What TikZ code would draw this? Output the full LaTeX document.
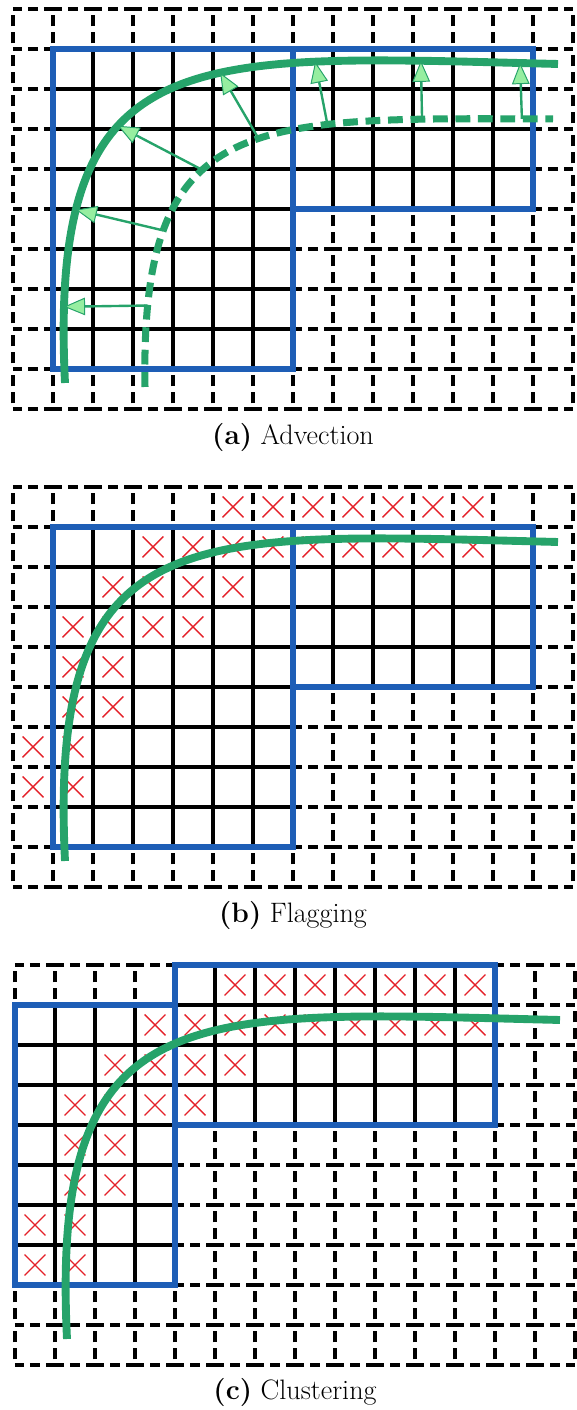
\documentclass[tikz,border=0pt]{standalone}
\usepackage{fontspec}
\usepackage{tikz}
\usetikzlibrary{arrows.meta,positioning}
\definecolor{frontgreen}{RGB}{38,163,106}
\definecolor{tipgreen}{RGB}{150,238,160}
\definecolor{patchblue}{RGB}{30,94,182}
\definecolor{flagred}{RGB}{228,32,40}
\newcommand{\coarsemesh}{%
 \foreach \y in {0,...,10} \draw[coarseh] (0,\y) -- (14,\y);
 \foreach \x in {0,...,14} \draw[coarsev] (\x,0) -- (\x,10);}
\newcommand{\frontcurve}{(1.3,0.65) .. controls (0.875,9.3) and (4.4,8.85) .. (13.625,8.625)}
\newcommand{\flaggedcells}{%
 \foreach \j/\ilo/\ihi in {9/5/11,8/3/11,7/2/5,6/1/4,5/1/2,4/1/2,3/0/1,2/0/1}
 \foreach \i in {\ilo,...,\ihi}
 \draw[flagmark] (\i+0.24,\j+0.24) -- (\i+0.76,\j+0.76) (\i+0.24,\j+0.76) -- (\i+0.76,\j+0.24);}

\begin{document}
\begin{tikzpicture}[
 coarseh/.style={line width=2.4pt,dash pattern=on 4.5mm off 1.5mm on 2.5mm off 1.5mm,dash phase=2.25mm},
 coarsev/.style={line width=2.4pt,dash pattern=on 2.9mm off 1.35mm on 2.9mm off 2.85mm,dash phase=8.575mm},
 fineline/.style={line width=2.4pt},
 patchbox/.style={draw=patchblue,line width=4.8pt},
 front/.style={draw=frontgreen,line width=5.6pt},
 oldfront/.style={front,line width=5pt,dash pattern=on 10.5pt off 5.5pt},
 velocity/.style={draw=frontgreen,line width=1.7pt,-{Triangle[length=15pt,width=12.5pt,fill=tipgreen,line width=0.7pt]}},
 flagmark/.style={draw=flagred,line width=1pt},
 caption/.style={font=\fontsize{20}{24}\selectfont}]
 \useasboundingbox (-0.325,-1.125) rectangle (14.075,34.125);

 \begin{scope}[yshift=23.9cm]
 \coarsemesh
 \draw[fineline] (1,1) grid (7,9);
 \draw[fineline] (7,5) grid (13,9);
 \draw[patchbox] (1,1) rectangle (7,9);
 \draw[patchbox] (7,5) rectangle (13,9);
 \draw[oldfront] (3.3,0.55) .. controls (3.175,7.475) and (5.925,7.275) .. (13.5,7.25)
 coordinate[pos=0.11] (d1) coordinate[pos=0.245] (d2) coordinate[pos=0.41] (d3)
 coordinate[pos=0.56] (d4) coordinate[pos=0.695] (d5) coordinate[pos=0.84] (d6)
 coordinate[pos=0.965] (d7);
 \draw[front] \frontcurve
 coordinate[pos=0.08] (s1) coordinate[pos=0.21] (s2) coordinate[pos=0.38] (s3)
 coordinate[pos=0.6] (s4) coordinate[pos=0.74] (s5) coordinate[pos=0.865] (s6)
 coordinate[pos=0.965] (s7);
 \foreach \k in {1,...,7} \draw[velocity] (d\k) -- (s\k);
 \node[caption,anchor=base] (capa) at (7,-0.9) {\textbf{(a)} Advection};
 \end{scope}

 \begin{scope}[yshift=11.95cm]
 \coarsemesh
 \draw[fineline] (1,1) grid (7,9);
 \draw[fineline] (7,5) grid (13,9);
 \draw[patchbox] (1,1) rectangle (7,9);
 \draw[patchbox] (7,5) rectangle (13,9);
 \flaggedcells
 \draw[front] \frontcurve;
 \node[caption,anchor=base] (capb) at (7,-0.88) {\textbf{(b)} Flagging};
 \end{scope}

 \begin{scope}[xshift=0.05cm]
 \coarsemesh
 \draw[fineline] (0,2) grid (4,9);
 \draw[fineline] (4,6) grid (12,10);
 \draw[patchbox] (0,2) rectangle (4,9);
 \draw[patchbox] (4,6) rectangle (12,10);
 \flaggedcells
 \draw[front] \frontcurve;
 \node[caption,anchor=base] (capc) at (7,-0.86) {\textbf{(c)} Clustering};
 \end{scope}
\end{tikzpicture}
\end{document}
